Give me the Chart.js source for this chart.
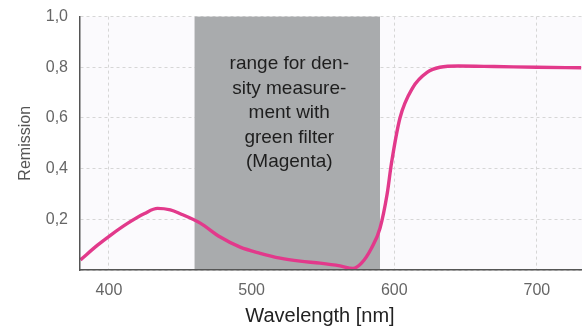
<!DOCTYPE html>
<html>
<head>
<meta charset="utf-8">
<script src="https://cdn.jsdelivr.net/npm/chart.js@4/dist/chart.umd.min.js"></script>
<style>
  html, body { margin: 0; padding: 0; background: #fff; }
  #wrap { position: relative; width: 582px; height: 331px; overflow: hidden; }
  #inner { position: absolute; left: 0; top: -5px; width: 582px; height: 336px; }
</style>
</head>
<body>
<div id="wrap"><div id="inner"><canvas id="chart"></canvas></div></div>
<script>
// wavelength (nm) and remission
const wavelengths = [380, 392, 401, 413, 425, 434, 443, 450, 464, 478, 492, 506, 520, 534, 548, 562, 571, 577, 584, 590, 595, 598, 604, 613, 623, 632, 645, 670, 700, 731];
const remission   = [0.04, 0.098, 0.137, 0.184, 0.223, 0.243, 0.237, 0.222, 0.185, 0.13, 0.09, 0.066, 0.047, 0.035, 0.027, 0.016, 0.006, 0.027, 0.086, 0.165, 0.3, 0.42, 0.6, 0.72, 0.78, 0.8, 0.805, 0.803, 0.8, 0.798];

const xTicks = [400, 500, 600, 700];
const yTicks = [0, 0.2, 0.4, 0.6, 0.8, 1.0];

const bandRange = [460, 590];
const bandLines = ["range for den-", "sity measure-", "ment with", "green filter", "(Magenta)"];

const xTitle = "Wavelength [nm]";
const yTitle = "Remission";

const fontFamily = '"Liberation Sans", Arial, Helvetica, sans-serif';

const extras = {
  id: "extras",
  beforeDraw(chart) {
    const { ctx, chartArea: a } = chart;
    ctx.save();
    ctx.fillStyle = "#fbfafd";
    ctx.fillRect(a.left, a.top, a.right - a.left, a.bottom - a.top);
    ctx.restore();
  },
  beforeDatasetsDraw(chart) {
    const { ctx, chartArea: a, scales } = chart;
    const x0 = scales.x.getPixelForValue(bandRange[0]);
    const x1 = scales.x.getPixelForValue(bandRange[1]);
    ctx.save();
    ctx.fillStyle = "#a9abad";
    ctx.fillRect(x0, a.top, x1 - x0, a.bottom - a.top);
    ctx.fillStyle = "#1e1e1e";
    ctx.font = "19px " + fontFamily;
    ctx.textAlign = "center";
    ctx.textBaseline = "middle";
    const cx = (x0 + x1) / 2 + 2;
    // canvas is shifted up 5px, so add 5 to screen positions
    bandLines.forEach((t, i) => ctx.fillText(t, cx, 69 + i * 24.5));
    ctx.restore();
  },
  afterDraw(chart) {
    const { ctx } = chart;
    ctx.save();
    ctx.fillStyle = "#222";
    ctx.font = "20px " + fontFamily;
    ctx.textAlign = "center";
    ctx.textBaseline = "middle";
    ctx.fillText(xTitle, 320, 321);
    ctx.restore();
  }
};

new Chart(document.getElementById("chart"), {
  type: "line",
  data: {
    datasets: [{
      data: wavelengths.map((w, i) => ({ x: w, y: remission[i] })),
      borderColor: "#e2398b",
      borderWidth: 3.4,
      pointRadius: 0,
      cubicInterpolationMode: "monotone",
      fill: false
    }]
  },
  options: {
    responsive: true,
    maintainAspectRatio: false,
    animation: false,
    layout: { padding: { top: 5, right: 0, left: 0, bottom: 0 } },
    plugins: { legend: { display: false }, tooltip: { enabled: false } },
    scales: {
      x: {
        type: "linear",
        min: 379.7,
        max: 731.6,
        afterBuildTicks: (s) => { s.ticks = xTicks.map(v => ({ value: v })); },
        afterFit: (s) => { s.height = 61; },
        ticks: {
          color: "#666",
          padding: 11,
          font: { family: fontFamily, size: 16 }
        },
        grid: { color: "#d6d6d6", drawTicks: false },
        border: { color: "#555", width: 1.5, z: 1, dash: [3, 3] }
      },
      y: {
        min: 0,
        max: 1,
        afterBuildTicks: (s) => { s.ticks = yTicks.map(v => ({ value: v })); },
        afterFit: (s) => { s.width = 80; },
        ticks: {
          color: "#666",
          padding: 12,
          font: { family: fontFamily, size: 16 },
          callback: (v) => v === 0 ? "" : v.toFixed(1).replace(".", ",")
        },
        title: {
          display: true,
          text: yTitle,
          color: "#555",
          padding: { top: 16, bottom: 0 },
          font: { family: fontFamily, size: 16 }
        },
        grid: { color: "#d6d6d6", drawTicks: false },
        border: { color: "#555", width: 1.5, z: 1, dash: [3, 3] }
      }
    }
  },
  plugins: [extras]
});
</script>
</body>
</html>
